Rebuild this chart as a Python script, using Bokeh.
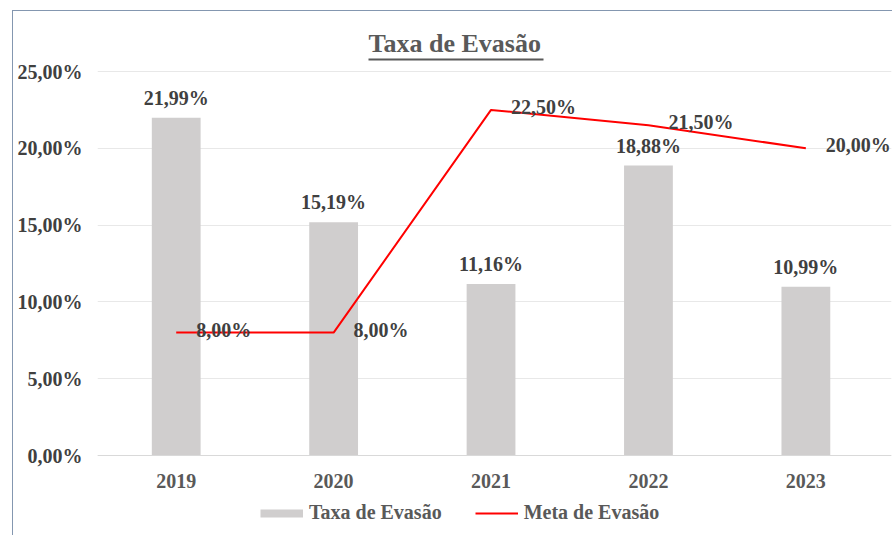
from bokeh.plotting import figure
from bokeh.models import (ColumnDataSource, FixedTicker, Legend, LegendItem,
                          Range1d, LinearAxis)
from bokeh.core.properties import value
from bokeh.embed import file_html
from bokeh.resources import INLINE

# ---- data ----
years = ["2019", "2020", "2021", "2022", "2023"]
taxa = [21.99, 15.19, 11.16, 18.88, 10.99]
meta = [8.00, 8.00, 22.50, 21.50, 20.00]
y_ticks = [0, 5, 10, 15, 20, 25]
y_tick_labels = ["0,00%", "5,00%", "10,00%", "15,00%", "20,00%", "25,00%"]


def pct(v):
    return f"{v:.2f}%".replace(".", ",")


xs = list(range(len(years)))
src = ColumnDataSource(dict(
    x=xs, taxa=taxa, meta=meta,
    taxa_lbl=[pct(v) for v in taxa],
    meta_lbl=[pct(v) for v in meta],
))

SERIF = "Liberation Serif"
BORDER = "#8497b0"
BAR_COLOR = "#d0cece"

# layout geometry (pixels)
W, H = 880, 525
FRAME_W = 794
X0, X1 = -0.5, 4.544
PX_PER_X = FRAME_W / (X1 - X0)
PX_PER_Y = 384 / 25.0
Y_TOP = (455 - 59) / PX_PER_Y        # frame top sits under the title
Y_BOT = -(530 - 455) / PX_PER_Y      # frame extends down to hold the legend

p = figure(width=W, height=H, output_backend="svg", toolbar_location=None,
           x_range=Range1d(X0, X1), y_range=Range1d(Y_BOT, Y_TOP),
           min_border_left=84, min_border_right=2, min_border_top=48,
           min_border_bottom=6, outline_line_color=None,
           title="Taxa de Evasão", margin=(10, 0, 0, 12),
           styles={"border-top": f"1px solid {BORDER}",
                   "border-left": f"1px solid {BORDER}"})

p.title.text_font = SERIF
p.title.text_font_size = "26px"
p.title.text_font_style = "bold"
p.title.text_color = "#595959"
p.title.align = "left"
p.title.offset = 271
p.title.standoff = 4

# title underline: an extra axis restricted to the title width
ul_left = X0 + 271 / PX_PER_X
ul_right = X0 + 446 / PX_PER_X
ul = LinearAxis(bounds=(ul_left, ul_right), axis_line_color="#595959",
                axis_line_width=2, major_tick_line_color=None,
                minor_tick_line_color=None, major_label_text_font_size="0px",
                ticker=FixedTicker(ticks=[]))
p.add_layout(ul, "above")

# axes
p.yaxis.ticker = FixedTicker(ticks=y_ticks)
p.yaxis.major_label_overrides = {t: l for t, l in zip(y_ticks, y_tick_labels)}
p.yaxis.axis_line_color = None
p.yaxis.major_tick_line_color = None
p.yaxis.minor_tick_line_color = None
p.yaxis.major_label_text_font = SERIF
p.yaxis.major_label_text_font_size = "20px"
p.yaxis.major_label_text_font_style = "bold"
p.yaxis.major_label_text_color = "#404040"
p.yaxis.major_label_standoff = 9

xa = p.below[0]
xa.fixed_location = 0
xa.ticker = FixedTicker(ticks=xs)
xa.major_label_overrides = {i: y for i, y in zip(xs, years)}
xa.axis_line_color = "#d9d9d9"
xa.major_tick_line_color = None
xa.minor_tick_line_color = None
xa.major_label_text_font = SERIF
xa.major_label_text_font_size = "20px"
xa.major_label_text_font_style = "bold"
xa.major_label_text_color = "#595959"
xa.major_label_standoff = 12

p.xgrid.grid_line_color = None
p.ygrid.grid_line_color = "#e8e8e8"
p.ygrid.ticker = FixedTicker(ticks=y_ticks)

# glyphs
bars = p.vbar(x="x", top="taxa", width=0.31, source=src,
              fill_color=BAR_COLOR, line_color=None)
line = p.line(x="x", y="meta", source=src, line_color="#ff0000", line_width=2)

p.text(x="x", y="taxa", text="taxa_lbl", source=src, text_align="center",
       text_baseline="middle", y_offset=-20, text_font=value(SERIF),
       text_font_size="20px", text_font_style="bold", text_color="#404040")
p.text(x="x", y="meta", text="meta_lbl", source=src, text_align="left",
       text_baseline="middle", x_offset=20, y_offset=-3, text_font=value(SERIF),
       text_font_size="20px", text_font_style="bold", text_color="#404040")

# legend swatch for the bars: a thick flat stroke through a single point
# (a one-point line draws nothing in the plot, only its legend glyph)
swatch = p.line(x=xs[:1], y=taxa[:1], line_color=BAR_COLOR, line_width=8,
                line_cap="butt")

legend = Legend(items=[LegendItem(label="Taxa de Evasão", renderers=[swatch]),
                       LegendItem(label="Meta de Evasão", renderers=[line])],
                orientation="horizontal", location=(163, 6),
                glyph_width=43, glyph_height=20, label_standoff=6, spacing=33,
                padding=0, margin=0, border_line_color=None,
                background_fill_alpha=0,
                label_text_font=SERIF, label_text_font_size="20px",
                label_text_font_style="bold", label_text_color="#595959")
p.add_layout(legend, "center")

open("out.html", "w").write(file_html(p, INLINE))
